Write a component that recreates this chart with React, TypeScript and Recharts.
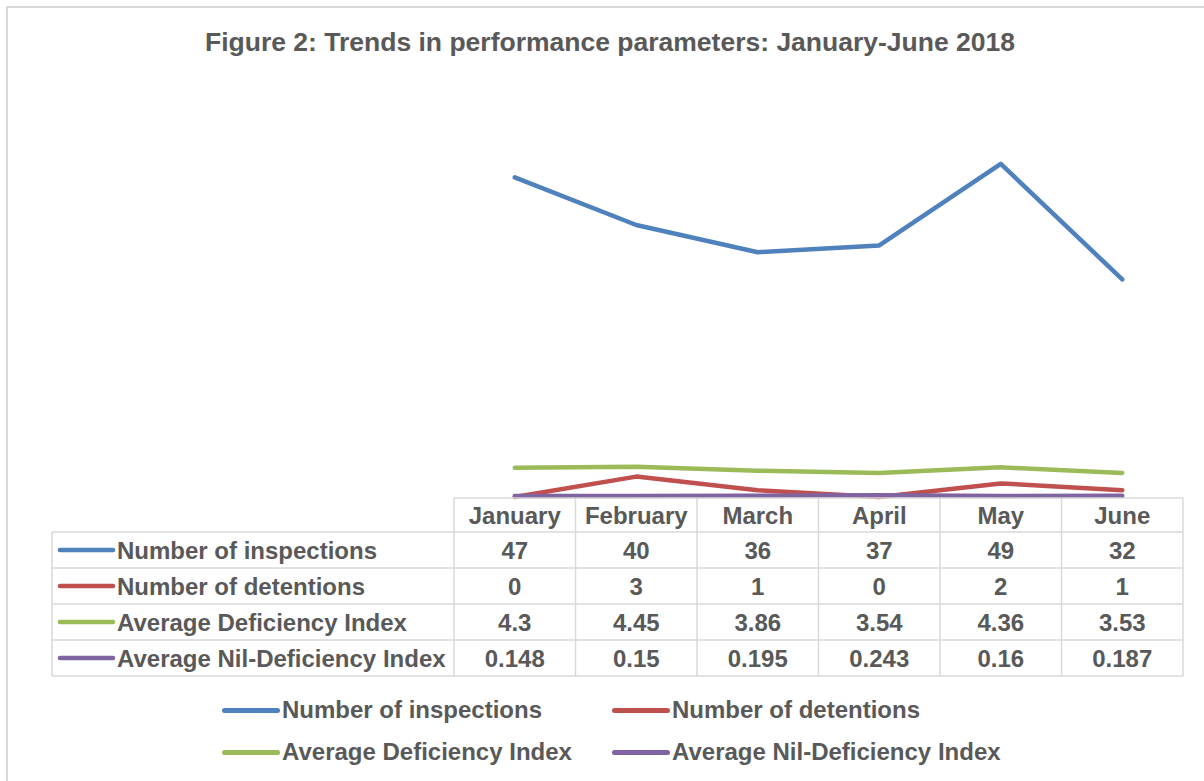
import React from "react";
import { LineChart, Line, XAxis, YAxis } from "recharts";

const months = ["January", "February", "March", "April", "May", "June"];
const inspections = [47, 40, 36, 37, 49, 32];
const detentions = [0, 3, 1, 0, 2, 1];
const deficiencyIndex = [4.3, 4.45, 3.86, 3.54, 4.36, 3.53];
const nilDeficiencyIndex = [0.148, 0.15, 0.195, 0.243, 0.16, 0.187];

const series = [
  { key: "inspections", name: "Number of inspections", color: "#4F81BD", values: inspections },
  { key: "detentions", name: "Number of detentions", color: "#C0504D", values: detentions },
  { key: "deficiency", name: "Average Deficiency Index", color: "#9BBB59", values: deficiencyIndex },
  { key: "nil", name: "Average Nil-Deficiency Index", color: "#8064A2", values: nilDeficiencyIndex },
];

const data = months.map((month, i) => {
  const row: Record<string, string | number> = { month };
  series.forEach((s) => {
    row[s.key] = s.values[i];
  });
  return row;
});

const W = 1204;
const H = 781;
const PLOT_LEFT = 454;
const PLOT_RIGHT = 1183;
const PLOT_TOP = 89;
const PLOT_BOTTOM = 497;
const COL = (PLOT_RIGHT - PLOT_LEFT) / months.length;
const ROWS = [498, 532, 568, 604, 640, 676];
const LABEL_LEFT = 52;
const TEXT = "#595959";
const GRID = "#D9D9D9";
const FONT = "'Liberation Sans', Arial, sans-serif";
const FS = 24;

function TableTick(props: any) {
  const { x, index, payload } = props;
  const i = index ?? payload?.index ?? 0;
  const left = x - COL / 2;
  const right = x + COL / 2;
  const mid = (a: number, b: number) => (a + b) / 2;
  return (
    <g fontFamily={FONT} fontWeight="bold" fontSize={FS} fill={TEXT}>
      {ROWS.map((ry) => (
        <line key={"h" + ry} x1={left} x2={right} y1={ry} y2={ry} stroke={GRID} strokeWidth={1.5} />
      ))}
      <line x1={right} x2={right} y1={ROWS[0]} y2={ROWS[5]} stroke={GRID} strokeWidth={1.5} />
      {i === 0 && (
        <g>
          <line x1={left} x2={left} y1={ROWS[0]} y2={ROWS[5]} stroke={GRID} strokeWidth={1.5} />
          <line x1={LABEL_LEFT} x2={LABEL_LEFT} y1={ROWS[1]} y2={ROWS[5]} stroke={GRID} strokeWidth={1.5} />
          {ROWS.slice(1).map((ry) => (
            <line key={"lh" + ry} x1={LABEL_LEFT} x2={left} y1={ry} y2={ry} stroke={GRID} strokeWidth={1.5} />
          ))}
          {series.map((s, r) => {
            const cy = mid(ROWS[r + 1], ROWS[r + 2]);
            return (
              <g key={s.key}>
                <line x1={60} x2={113} y1={cy} y2={cy} stroke={s.color} strokeWidth={4.5} strokeLinecap="round" />
                <text x={117} y={cy} dominantBaseline="central" textAnchor="start">
                  {s.name}
                </text>
              </g>
            );
          })}
        </g>
      )}
      <text x={x} y={mid(ROWS[0], ROWS[1])} dominantBaseline="central" textAnchor="middle">
        {payload.value}
      </text>
      {series.map((s, r) => (
        <text
          key={s.key}
          x={x}
          y={mid(ROWS[r + 1], ROWS[r + 2])}
          dominantBaseline="central"
          textAnchor="middle"
        >
          {String(s.values[i])}
        </text>
      ))}
    </g>
  );
}

const legendPos = [
  { left: 222, top: 710 },
  { left: 612, top: 710 },
  { left: 222, top: 752 },
  { left: 612, top: 752 },
];

export default function App() {
  const xAxisHeight = 200;
  return (
    <div style={{ position: "relative", width: W, height: H, overflow: "hidden", background: "#fff" }}>
      <style>{"body{margin:0;}"}</style>
      <div
        style={{
          position: "absolute",
          left: 6,
          top: 6,
          width: W + 40,
          height: H + 40,
          border: "2px solid #D9D9D9",
          boxSizing: "border-box",
        }}
      />
      <div
        style={{
          position: "absolute",
          left: 0,
          width: 1220,
          top: 27,
          textAlign: "center",
          fontFamily: FONT,
          fontWeight: "bold",
          fontSize: 26.5,
          color: TEXT,
        }}
      >
        Figure 2: Trends in performance parameters: January-June 2018
      </div>
      <div style={{ position: "absolute", left: 0, top: 0 }}>
        <LineChart
          width={W}
          height={H}
          data={data}
          margin={{ top: PLOT_TOP, left: PLOT_LEFT, right: W - PLOT_RIGHT, bottom: H - PLOT_BOTTOM - xAxisHeight }}
        >
          <XAxis
            dataKey="month"
            height={xAxisHeight}
            axisLine={false}
            tickLine={false}
            interval={0}
            padding={{ left: COL / 2, right: COL / 2 }}
            tick={<TableTick />}
          />
          <YAxis hide domain={[0, 60]} />
          {series.map((s) => (
            <Line
              key={s.key}
              type="linear"
              dataKey={s.key}
              name={s.name}
              stroke={s.color}
              strokeWidth={4.5}
              strokeLinecap="round"
              strokeLinejoin="round"
              dot={false}
              activeDot={false}
              isAnimationActive={false}
            />
          ))}
        </LineChart>
      </div>
      {series.map((s, i) => (
        <div
          key={s.key}
          style={{
            position: "absolute",
            left: legendPos[i].left,
            top: legendPos[i].top,
            transform: "translateY(-50%)",
            display: "flex",
            alignItems: "center",
            fontFamily: FONT,
            fontWeight: "bold",
            fontSize: FS,
            color: TEXT,
            whiteSpace: "nowrap",
          }}
        >
          <span
            style={{
              display: "inline-block",
              width: 58,
              height: 5,
              borderRadius: 3,
              background: s.color,
              marginRight: 2,
            }}
          />
          {s.name}
        </div>
      ))}
    </div>
  );
}
